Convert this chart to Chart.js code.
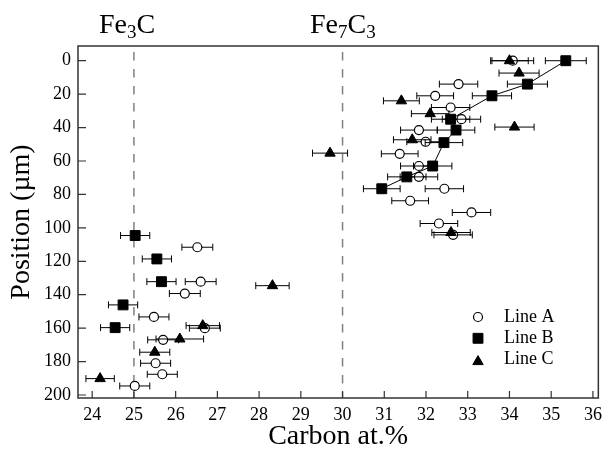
<!DOCTYPE html>
<html lang="en">
<head>
  <meta charset="UTF-8" />
  <title>Carbon profile</title>
  <style>
    body { margin: 0; background: #fff; }
    canvas { display: block; }
  </style>
</head>
<body>
  <canvas id="chart" width="608" height="451"></canvas>

  <script src="https://cdn.jsdelivr.net/npm/chart.js"></script>
  <script>
    // Line A (open circles)
    const posA    = [0, 14, 21, 28, 35, 41.5, 48.5, 55.7, 63, 69.5, 76.6, 83.8, 90.8, 97.4, 104.2,
                     111.6, 132.2, 139.3, 153.3, 160, 167, 181, 187.6, 194.6];
    const carbonA = [34.08, 32.78, 32.22, 32.59, 32.85, 31.83, 31.99, 31.37, 31.83, 31.83, 32.44, 31.62, 33.09, 32.31, 32.65,
                     26.52, 26.6, 26.22, 25.48, 26.7, 25.7, 25.52, 25.68, 25.02];
    const errA    = [0.5, 0.46, 0.44, 0.46, 0.46, 0.44, 0.45, 0.44, 0.44, 0.45, 0.46, 0.44, 0.46, 0.45, 0.46,
                     0.37, 0.37, 0.37, 0.36, 0.37, 0.37, 0.36, 0.36, 0.36];

    // Line B (filled squares)
    const posB    = [0, 14, 21, 35, 41.5, 49, 63, 69.5, 76.6, 104.6, 118.6, 132.2, 146.1, 159.7];
    const carbonB = [35.35, 34.43, 33.58, 32.59, 32.72, 32.43, 32.16, 31.54, 30.94, 25.03, 25.55, 25.66, 24.74, 24.55];
    const errB    = [0.49, 0.48, 0.47, 0.46, 0.45, 0.45, 0.46, 0.46, 0.44, 0.35, 0.35, 0.35, 0.35, 0.35];

    // Line C (filled triangles)
    const posC    = [0, 7.4, 24, 31.7, 39.7, 47.3, 55.3, 102.8, 134.6, 158.5, 166.5, 174.4, 190.2];
    const carbonC = [34.0, 34.23, 31.41, 32.1, 34.12, 31.67, 29.7, 32.6, 28.32, 26.65, 26.1, 25.5, 24.19];
    const errC    = [0.45, 0.48, 0.43, 0.45, 0.47, 0.45, 0.42, 0.46, 0.4, 0.4, 0.57, 0.36, 0.34];

    const xTicks = [24, 25, 26, 27, 28, 29, 30, 31, 32, 33, 34, 35, 36];
    const yTicks = [0, 20, 40, 60, 80, 100, 120, 140, 160, 180, 200];

    // phase compositions marked by dashed lines
    const phaseNames  = [['Fe', '3', 'C', ''], ['Fe', '7', 'C', '3']];
    const phaseCarbon = [25, 30];

    const FONT = "'Liberation Serif', 'DejaVu Serif', serif";
    Chart.defaults.font.family = FONT;
    Chart.defaults.color = '#000';

    const toPoints = (xs, ys, es) => xs.map((x, i) => ({ x: x, y: ys[i], err: es[i] }));

    const decor = {
      id: 'decor',
      beforeDraw(chart) {
        const { ctx, chartArea: a, scales: { x } } = chart;
        ctx.save();
        ctx.strokeStyle = '#808080';
        ctx.lineWidth = 1.5;
        ctx.setLineDash([8.5, 8.5]);
        ctx.lineDashOffset = -6;
        phaseCarbon.forEach(c => {
          const px = x.getPixelForValue(c);
          ctx.beginPath();
          ctx.moveTo(px, a.top);
          ctx.lineTo(px, a.bottom);
          ctx.stroke();
        });
        ctx.restore();
      },
      beforeDatasetDraw(chart, args) {
        const { ctx, scales: { x, y } } = chart;
        const ds = chart.data.datasets[args.index];
        ctx.save();
        ctx.strokeStyle = '#000';
        ctx.lineWidth = 1;
        ds.data.forEach(p => {
          const x0 = x.getPixelForValue(p.x - p.err);
          const x1 = x.getPixelForValue(p.x + p.err);
          const py = y.getPixelForValue(p.y);
          ctx.beginPath();
          ctx.moveTo(x0, py); ctx.lineTo(x1, py);
          ctx.moveTo(x0, py - 3.5); ctx.lineTo(x0, py + 3.5);
          ctx.moveTo(x1, py - 3.5); ctx.lineTo(x1, py + 3.5);
          ctx.stroke();
        });
        ctx.restore();
      },
      afterDraw(chart) {
        const { ctx, chartArea: a, scales: { x, y } } = chart;
        ctx.save();
        // frame
        ctx.strokeStyle = '#333';
        ctx.lineWidth = 1.5;
        ctx.strokeRect(a.left, a.top, a.right - a.left, a.bottom - a.top);
        // inward tick marks
        ctx.lineWidth = 1.2;
        ctx.beginPath();
        yTicks.forEach(t => {
          const py = y.getPixelForValue(t);
          ctx.moveTo(a.left, py); ctx.lineTo(a.left + 8, py);
        });
        xTicks.forEach(t => {
          const px = x.getPixelForValue(t);
          ctx.moveTo(px, a.bottom); ctx.lineTo(px, a.bottom - 7);
        });
        ctx.stroke();

        // phase labels with subscripts
        ctx.fillStyle = '#000';
        ctx.textBaseline = 'alphabetic';
        const starts = [99, 310];
        phaseNames.forEach((parts, i) => {
          let cx = starts[i];
          parts.forEach((s, k) => {
            if (!s) return;
            const sub = k % 2 === 1;
            ctx.font = (sub ? '19px ' : '28px ') + FONT;
            ctx.fillText(s, cx, sub ? 38 : 33);
            cx += ctx.measureText(s).width;
          });
        });

        // legend inside the plot
        ctx.font = '18px ' + FONT;
        ctx.textBaseline = 'middle';
        chart.data.datasets.forEach((ds, i) => {
          const ly = 317 + i * 21.3;
          ctx.fillStyle = ds.pointBackgroundColor;
          ctx.strokeStyle = ds.pointBorderColor;
          ctx.lineWidth = ds.pointBorderWidth;
          Chart.helpers.drawPoint(ctx, {
            pointStyle: ds.pointStyle, radius: ds.pointRadius,
            borderWidth: ds.pointBorderWidth, rotation: 0
          }, 478, ly + (ds.pointStyle === 'triangle' ? 2 : 0));
          ctx.fillStyle = '#000';
          ctx.fillText(ds.label, 504, ly);
        });
        ctx.restore();
      }
    };

    new Chart(document.getElementById('chart'), {
      type: 'scatter',
      data: {
        datasets: [
          {
            label: 'Line A',
            data: toPoints(carbonA, posA, errA),
            pointStyle: 'circle', pointRadius: 4.5,
            pointBackgroundColor: '#fff', pointBorderColor: '#000', pointBorderWidth: 1.2,
            order: 2
          },
          {
            label: 'Line B',
            data: toPoints(carbonB, posB, errB),
            pointStyle: 'rect', pointRadius: 7,
            pointBackgroundColor: '#000', pointBorderColor: '#000', pointBorderWidth: 1,
            showLine: true, borderColor: '#000', borderWidth: 1,
            segment: { borderColor: c => c.p1.parsed.y > 90 ? 'rgba(0,0,0,0)' : '#000' },
            order: 1
          },
          {
            label: 'Line C',
            data: toPoints(carbonC, posC, errC),
            pointStyle: 'triangle', pointRadius: 6,
            pointBackgroundColor: '#000', pointBorderColor: '#000', pointBorderWidth: 1,
            order: 0
          }
        ]
      },
      options: {
        responsive: false,
        animation: false,
        layout: { padding: { top: 46, right: 6, left: 0, bottom: 0 } },
        plugins: { legend: { display: false }, tooltip: { enabled: false } },
        scales: {
          x: {
            type: 'linear', min: 23.66, max: 36.13,
            afterBuildTicks: s => { s.ticks = xTicks.map(v => ({ value: v })); },
            afterFit: s => { s.height = 53; },
            grid: { display: false, drawTicks: false },
            border: { display: false },
            ticks: { font: { size: 18 }, padding: 6, maxRotation: 0, autoSkip: false },
            title: { display: true, text: 'Carbon at.%', font: { size: 28, lineHeight: 1 }, padding: { top: 0, bottom: 0 } }
          },
          y: {
            type: 'linear', reverse: true, min: -8.8, max: 201.8,
            afterBuildTicks: s => { s.ticks = yTicks.map(v => ({ value: v })); },
            afterFit: s => { s.width = 78; },
            grid: { display: false, drawTicks: false },
            border: { display: false },
            ticks: { font: { size: 18 }, padding: 7, autoSkip: false },
            title: { display: true, text: 'Position (µm)', font: { size: 28, lineHeight: 1 }, padding: { top: 8, bottom: 0 } }
          }
        }
      },
      plugins: [decor]
    });
  </script>
</body>
</html>
